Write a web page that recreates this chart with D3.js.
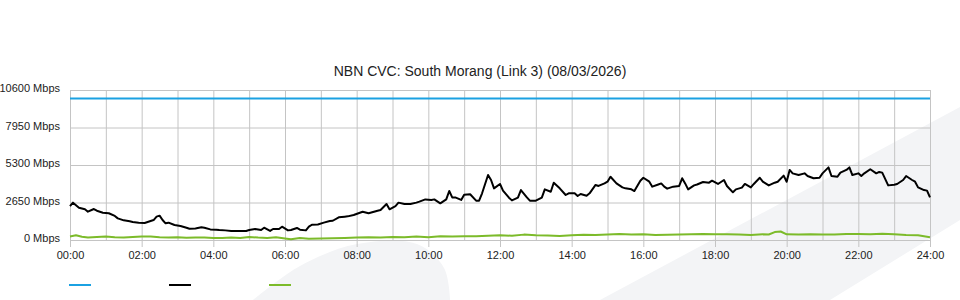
<!DOCTYPE html>
<html>
<head>
<meta charset="utf-8">
<script src="https://cdn.jsdelivr.net/npm/d3@7"></script>
<style>
  body { margin: 0; background: #fff; }
  svg text { font-family: "Liberation Sans", Arial, sans-serif; fill: #222; }
</style>
</head>
<body>
<svg id="chart"></svg>
<script>
// Minutes after midnight and Mbps
const capacityMinutes = [0, 1440];
const capacityValues = [10000, 10000];

const trafficMinutes = [
  0, 5, 15, 25, 30, 40, 45, 55, 65, 75, 80, 90, 100, 105, 115, 125, 130, 140, 145, 150,
  155, 160, 165, 175, 185, 195, 200, 210, 220, 225, 235, 245, 250, 260, 270, 275, 285, 295,
  300, 310, 320, 325, 335, 340, 350, 355, 365, 370, 380, 385, 395, 400, 405, 415, 425, 435,
  440, 450, 460, 465, 475, 490, 500, 515, 520, 530, 535, 545, 550, 560, 570, 580, 585, 595,
  605, 610, 620, 630, 635, 640, 645, 655, 660, 670, 680, 685, 690, 700, 705, 710, 720, 725,
  735, 740, 750, 755, 765, 770, 780, 790, 795, 805, 810, 820, 830, 835, 845, 850, 855, 865,
  870, 880, 885, 895, 900, 905, 915, 925, 930, 940, 945, 955, 960, 970, 975, 985, 990, 995,
  1000, 1010, 1020, 1025, 1030, 1035, 1045, 1050, 1060, 1070, 1075, 1085, 1095, 1100, 1110,
  1115, 1125, 1130, 1140, 1145, 1155, 1160, 1170, 1180, 1185, 1195, 1200, 1205, 1210, 1220,
  1230, 1235, 1245, 1255, 1260, 1270, 1275, 1285, 1290, 1300, 1305, 1310, 1320, 1325, 1330,
  1340, 1350, 1355, 1360, 1370, 1380, 1385, 1395, 1400, 1410, 1415, 1420, 1430, 1435, 1440
];
const trafficValues = [
  2400, 2640, 2280, 2170, 2000, 2190, 2070, 1930, 1890, 1700, 1530, 1390, 1320, 1270, 1225, 1200, 1270, 1410, 1650, 1720,
  1410, 1180, 1225, 1060, 990, 870, 800, 820, 900, 870, 750, 730, 710, 680, 640, 640, 640, 640,
  710, 780, 710, 870, 640, 780, 780, 940, 680, 710, 850, 730, 680, 940, 1080, 1100, 1225, 1340,
  1360, 1600, 1650, 1670, 1770, 2000, 1890, 2070, 2120, 2540, 2170, 2400, 2640, 2540, 2540, 2640, 2710, 2870,
  2830, 2870, 2590, 2870, 3460, 3010, 3010, 2830, 3200, 3230, 2780, 2780, 3300, 4590, 4240, 3650, 3960, 3490,
  2990, 2800, 2990, 3530, 3010, 2780, 2780, 2990, 3580, 3410, 4050, 3650, 3180, 3300, 3300, 3110, 3250, 3130,
  3300, 3890, 3820, 4000, 4120, 4470, 4000, 3720, 3650, 3580, 3460, 4190, 4400, 4120, 3770, 3920, 4000, 3770,
  3630, 3770, 3820, 4360, 4000, 3580, 3860, 3920, 4100, 4050, 4190, 3960, 4240, 3820, 3370,
  3580, 3700, 3960, 3720, 3960, 4400, 4120, 3860, 4050, 4120, 4550, 4120, 4950, 4710, 4590,
  4710, 4520, 4360, 4400, 4710, 5130, 4520, 4470, 4760, 4950, 5130, 4590, 4710, 4520, 4710,
  5000, 4710, 4810, 4760, 3860, 3900, 3960, 4240, 4520, 4240, 4120, 3720, 3530, 3490, 3010
];

const otherMinutes = [
  0, 10, 20, 30, 45, 60, 75, 90, 105, 120, 135, 150, 165, 180, 195, 210, 225, 240, 255, 270,
  285, 300, 315, 330, 345, 360, 370, 385, 400, 420, 440, 460, 480, 500, 520, 540, 560, 580,
  600, 620, 640, 660, 680, 700, 720, 740, 760, 780, 800, 820, 840, 860, 880, 900, 920, 940,
  960, 980, 1000, 1020, 1040, 1060, 1080, 1100, 1120, 1140, 1160, 1170, 1180, 1190, 1200,
  1220, 1240, 1260, 1280, 1300, 1320, 1340, 1360, 1380, 1400, 1420, 1440
];
const otherValues = [
  250, 330, 230, 180, 220, 250, 200, 170, 210, 250, 240, 200, 180, 200, 160, 180, 170, 150, 140, 170,
  140, 220, 170, 150, 190, 110, 50, 140, 80, 100, 130, 150, 170, 200, 180, 210, 190, 240,
  200, 260, 250, 270, 260, 300, 330, 300, 380, 330, 320, 290, 330, 370, 350, 380, 420, 380,
  400, 350, 370, 380, 400, 420, 410, 400, 380, 360, 400, 390, 560, 600, 400,
  380, 400, 390, 380, 420, 420, 410, 440, 410, 360, 330, 190
];

const yTicks = [0, 2650, 5300, 7950, 10600];
const xTickLabels = ["00:00", "02:00", "04:00", "06:00", "08:00", "10:00", "12:00",
  "14:00", "16:00", "18:00", "20:00", "22:00", "24:00"];

// Faint watermark shapes behind the chart
const leafShape = [[253, 300], [300, 266], [357, 244], [417, 244], [444, 268], [450, 300]];
const bandShape = [[600, 300], [960, 107], [960, 220], [830, 300]];

// Chart dimensions and margins
const svgWidth = 960;
const svgHeight = 300;
const marginTop = 90;
const marginLeft = 70;
const marginRight = 30;
const marginBottom = 60;
const width = svgWidth - marginLeft - marginRight;
const height = svgHeight - marginTop - marginBottom;

const svg = d3.select("#chart")
  .attr("width", svgWidth)
  .attr("height", svgHeight);

svg.append("path")
  .attr("d", d3.line().curve(d3.curveCatmullRom)(leafShape) + "Z")
  .attr("fill", "#f3f4f6");

svg.append("path")
  .attr("d", d3.line()(bandShape) + "Z")
  .attr("fill", "#f3f4f6");

const x = d3.scaleLinear()
  .domain([0, 1440])
  .range([marginLeft, marginLeft + width]);

const y = d3.scaleLinear()
  .domain([0, 10600])
  .range([marginTop + height, marginTop]);

// Hourly vertical grid lines
svg.append("g")
  .attr("transform", "translate(0," + (marginTop + height) + ")")
  .call(d3.axisBottom(x).tickValues(d3.range(0, 1441, 60)).tickSize(-height).tickFormat(""))
  .call(g => g.select(".domain").remove())
  .call(g => g.selectAll(".tick line").attr("stroke", "#c4c4c4"));

// Labelled two-hour ticks below the plot
svg.append("g")
  .attr("transform", "translate(0," + (marginTop + height) + ")")
  .call(d3.axisBottom(x)
    .tickValues(d3.range(0, 1441, 120))
    .tickSize(7)
    .tickPadding(4)
    .tickFormat((d, i) => xTickLabels[i]))
  .call(g => g.select(".domain").remove())
  .call(g => g.selectAll(".tick line").attr("stroke", "#c4c4c4"))
  .call(g => g.selectAll(".tick text").style("font-size", "11px").attr("fill", "#222"));

// Horizontal grid lines and Mbps labels
svg.append("g")
  .attr("transform", "translate(" + marginLeft + ",0)")
  .call(d3.axisLeft(y)
    .tickValues(yTicks)
    .tickSize(-width)
    .tickPadding(10)
    .tickFormat(d => d + " Mbps"))
  .call(g => g.select(".domain").remove())
  .call(g => g.selectAll(".tick line").attr("stroke", "#c4c4c4"))
  .call(g => g.selectAll(".tick text")
    .attr("y", -2)
    .style("font-size", "11px")
    .attr("fill", "#222"));

// Title sits centred on the page, not on the plot
svg.append("text")
  .attr("x", svgWidth / 2)
  .attr("y", 76)
  .attr("text-anchor", "middle")
  .style("font-size", "14px")
  .text("NBN CVC: South Morang (Link 3) (08/03/2026)");

const line = d3.line()
  .x(d => x(d[0]))
  .y(d => y(d[1]));

const series = [
  { minutes: capacityMinutes, values: capacityValues, color: "#1ba1e2" },
  { minutes: trafficMinutes, values: trafficValues, color: "#000000" },
  { minutes: otherMinutes, values: otherValues, color: "#7cbb2a" }
];

series.forEach(s => {
  svg.append("path")
    .datum(d3.zip(s.minutes, s.values))
    .attr("fill", "none")
    .attr("stroke", s.color)
    .attr("stroke-width", 2)
    .attr("stroke-linejoin", "round")
    .attr("d", line);
});

// Legend: coloured swatches only, no labels shown
svg.append("g")
  .selectAll("line")
  .data(series)
  .join("line")
  .attr("x1", (d, i) => 69 + i * 100)
  .attr("x2", (d, i) => 91 + i * 100)
  .attr("y1", 285)
  .attr("y2", 285)
  .attr("stroke", d => d.color)
  .attr("stroke-width", 2);
</script>
</body>
</html>
